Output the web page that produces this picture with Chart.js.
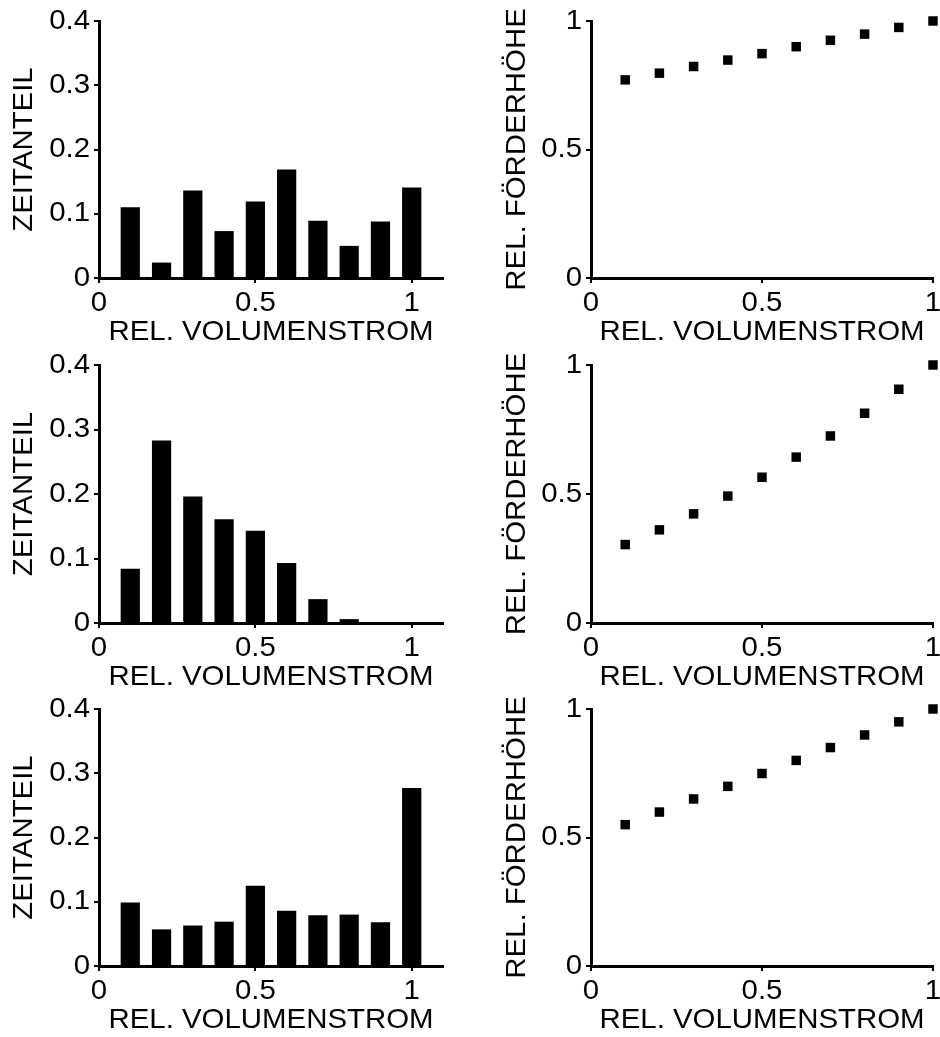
<!DOCTYPE html>
<html>
<head>
<meta charset="utf-8">
<script src="https://cdn.jsdelivr.net/npm/chart.js@4.4.1/dist/chart.umd.min.js"></script>
<style>
  html, body { margin: 0; padding: 0; background: #fff; width: 940px; height: 1037px; overflow: hidden; }
  canvas { position: absolute; }
</style>
</head>
<body>
<script>
// ---- data ----
const flowCategories = [0.1, 0.2, 0.3, 0.4, 0.5, 0.6, 0.7, 0.8, 0.9, 1.0];
const timeShare1 = [0.110, 0.024, 0.136, 0.073, 0.119, 0.169, 0.089, 0.050, 0.088, 0.141];
const timeShare2 = [0.084, 0.283, 0.196, 0.161, 0.143, 0.093, 0.037, 0.006, 0.0, 0.0];
const timeShare3 = [0.099, 0.057, 0.063, 0.069, 0.125, 0.086, 0.079, 0.080, 0.068, 0.277];
const headRel1 = [0.771, 0.797, 0.823, 0.848, 0.873, 0.900, 0.925, 0.949, 0.975, 1.0];
const headRel2 = [0.304, 0.361, 0.423, 0.492, 0.565, 0.643, 0.725, 0.813, 0.906, 1.0];
const headRel3 = [0.550, 0.599, 0.650, 0.699, 0.749, 0.800, 0.850, 0.899, 0.950, 1.0];
const xTickValues = [0, 0.5, 1];
const shareTickValues = [0, 0.1, 0.2, 0.3, 0.4];
const headTickValues = [0, 0.5, 1];
const xTitle = 'REL. VOLUMENSTROM';
const shareTitle = 'ZEITANTEIL';
const headTitle = 'REL. FÖRDERHÖHE';

// ---- layout (pixels) ----
const rowTops = [21, 365, 709];
const rowBottoms = [278, 623, 966];
const padTop = 18;
const xAxisH = 72;
const FONT = { family: "'Liberation Sans', Arial, Helvetica, sans-serif", size: 28 };
const STRETCH = 1.05;

function stretchText(ctx, sx) {
  const orig = ctx.fillText.bind(ctx);
  ctx.fillText = function (t, x, y) {
    this.save();
    this.translate(x, y);
    this.scale(sx, 1);
    orig(t, 0, 0);
    this.restore();
  };
}

function makeCanvas(left, top, w, h) {
  const c = document.createElement('canvas');
  c.width = w; c.height = h;
  c.style.left = left + 'px'; c.style.top = top + 'px';
  c.style.width = w + 'px'; c.style.height = h + 'px';
  document.body.appendChild(c);
  const ctx = c.getContext('2d');
  stretchText(ctx, STRETCH);
  return c;
}

function axisCommon(tickVals, min, max, titleText, titlePad, tickPad, fitFn) {
  return {
    type: 'linear', min: min, max: max, offset: false,
    afterBuildTicks: s => { s.ticks = tickVals.map(v => ({ value: v })); },
    afterFit: fitFn,
    ticks: { color: '#000', font: FONT, padding: tickPad, autoSkip: false, maxRotation: 0, minRotation: 0,
             callback: v => String(v) },
    grid: { display: true, drawOnChartArea: false, drawTicks: true, tickLength: 5, color: '#000', lineWidth: 2, offset: false },
    border: { display: true, color: '#000', width: 3 },
    title: { display: true, text: titleText, color: '#000', font: FONT, padding: titlePad }
  };
}

function buildPanel(row, col, kind, values) {
  const isLeft = col === 0;
  const left = isLeft ? 0 : 470;
  const width = isLeft ? 450 : 470;
  const yAxisW = isLeft ? 99 : 121;
  const padRight = 7;
  const top = rowTops[row] - padTop;
  const height = rowBottoms[row] - top + xAxisH;
  const canvas = makeCanvas(left, top, width, height);

  const xScale = axisCommon(xTickValues, 0, kind === 'bar' ? 1.1 : 1, xTitle, { top: 0, bottom: 0.5 }, 3,
    s => { s.height = xAxisH; s.paddingLeft = 0; s.paddingRight = 0; });
  const yScale = axisCommon(kind === 'bar' ? shareTickValues : headTickValues, 0, kind === 'bar' ? 0.4 : 1,
    kind === 'bar' ? shareTitle : headTitle, { top: isLeft ? 7.7 : 30.2, bottom: 0 }, 4,
    s => { s.width = yAxisW; s.paddingTop = 0; s.paddingBottom = 0; });

  const points = flowCategories.map((x, i) => ({ x: x, y: values[i] }));
  const dataset = kind === 'bar'
    ? { data: points, backgroundColor: '#000', borderWidth: 0, barPercentage: 0.615, categoryPercentage: 1.0 }
    : { data: points, backgroundColor: '#000', borderColor: '#000', borderWidth: 0, pointStyle: 'rect',
        pointRadius: 6.7, showLine: false, clip: false };

  new Chart(canvas, {
    type: kind === 'bar' ? 'bar' : 'scatter',
    data: { datasets: [dataset] },
    options: {
      responsive: false, animation: false, devicePixelRatio: 1,
      layout: { padding: { top: padTop, right: padRight, left: 0, bottom: 0 } },
      plugins: { legend: { display: false }, tooltip: { enabled: false } },
      scales: { x: xScale, y: yScale }
    }
  });
}

buildPanel(0, 0, 'bar', timeShare1);
buildPanel(0, 1, 'scatter', headRel1);
buildPanel(1, 0, 'bar', timeShare2);
buildPanel(1, 1, 'scatter', headRel2);
buildPanel(2, 0, 'bar', timeShare3);
buildPanel(2, 1, 'scatter', headRel3);
</script>
</body>
</html>
